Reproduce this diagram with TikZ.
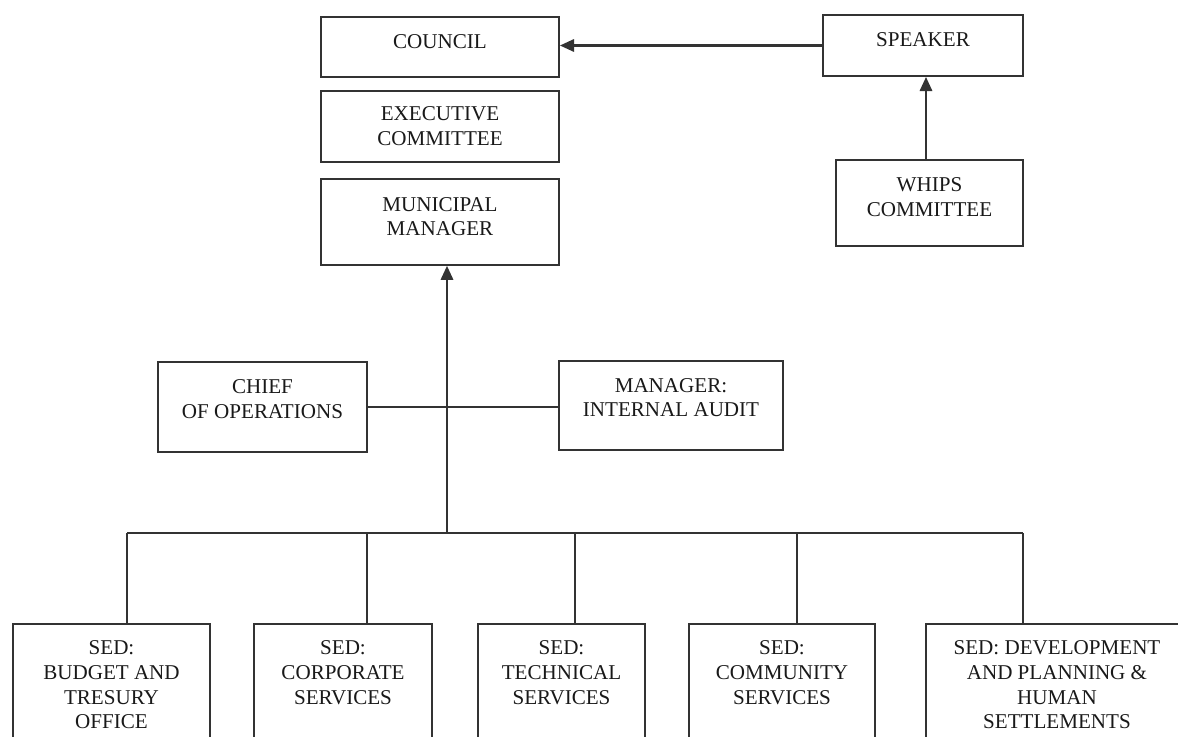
\documentclass[tikz,border=0pt]{standalone}
\usepackage{fontspec}
\setmainfont{Liberation Serif}
\usetikzlibrary{positioning}
\usetikzlibrary{arrows.meta}
\tikzset{
	box/.style={draw=black!80, line width=1.1pt, rectangle, align=center, text=black!90, font=\fontsize{12pt}{14pt}\selectfont, minimum width=4.76cm},
	% bottom row, cut off by the page edge
	sed/.style={box, anchor=north, inner ysep=9.7pt, text depth=50pt},
	link/.style={draw=black!80, line width=1pt},
}

\begin{document}
\begin{tikzpicture}[x=0.02cm, y=-0.02cm]
	\clip (0,0) rectangle (1178,737);
	
	\node (council) [box, minimum height=1.2cm, text depth=6pt] at (440,47) {COUNCIL};
	\node (exec) [box, minimum height=1.42cm, below=0.24cm of council] {EXECUTIVE\\COMMITTEE};
	\node (mm) [box, minimum height=1.72cm, text depth=6pt, below=0.3cm of exec] {MUNICIPAL\\MANAGER};
	
	\node (speaker) [box, minimum width=4cm, minimum height=1.22cm, text depth=7pt] at (923,45.5) {SPEAKER};
	\node (whips) [box, minimum width=3.74cm, minimum height=1.72cm, text depth=7pt, below=1.64cm of speaker.south east, anchor=north east] {WHIPS\\COMMITTEE};
	
	\node (chief) [box, minimum width=4.18cm, minimum height=1.8cm, text depth=9pt] at (262.5,407) {CHIEF\\OF OPERATIONS};
	\node (audit) [box, minimum width=4.48cm, minimum height=1.78cm, text depth=9pt] at (671,405.5) {MANAGER:\\INTERNAL AUDIT};
	
	\node (budget) [sed, minimum width=3.94cm] at (111.5,623) {SED:\\BUDGET AND\\TRESURY\\OFFICE};
	\node (corporate) [sed, minimum width=3.56cm] at (343,623) {SED:\\CORPORATE\\SERVICES};
	\node (technical) [sed, minimum width=3.34cm] at (561.5,623) {SED:\\TECHNICAL\\SERVICES};
	\node (community) [sed, minimum width=3.72cm] at (782,623) {SED:\\COMMUNITY\\SERVICES};
	\node (devplan) [sed, minimum width=5.24cm] at (1057,623) {SED: DEVELOPMENT\\AND PLANNING \&\\HUMAN\\SETTLEMENTS};
	
	\coordinate (hub) at (447,533);
	\foreach \n/\x in {budget/127, corporate/367, technical/575, community/797, devplan/1023}
		\coordinate (\n-top) at (\x,533);
	
	\begin{scope}[link, line width=1.3pt, ->, >={Triangle[length=8pt, width=7pt]}]
		\draw (speaker.west) -- (speaker.west -| council.east);
		\draw ([xshift=-0.07cm]whips.north) -- ([xshift=-0.07cm]whips.north |- speaker.south);
		\draw (hub) -- (hub |- mm.south);
	\end{scope}
	
	\begin{scope}[link]
		\draw (chief.east) -- (chief.east -| audit.west);
		\draw (budget-top) -- (devplan-top);
		\foreach \n in {budget, corporate, technical, community, devplan}
			\draw (\n-top) -- (\n-top |- \n.north);
	\end{scope}
	
\end{tikzpicture}
\end{document}
